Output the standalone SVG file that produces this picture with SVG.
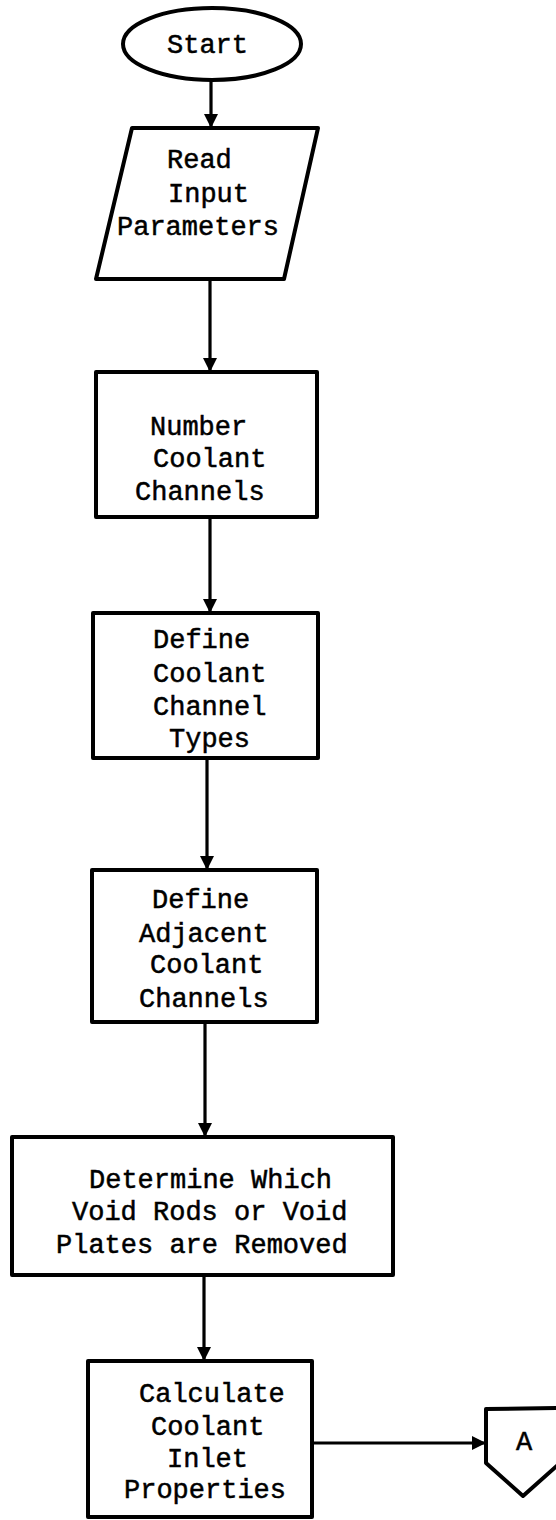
<svg xmlns="http://www.w3.org/2000/svg" width="556" height="1520" viewBox="0 0 556 1520">
  <style>
    .shape { fill: #fff; stroke: #000; stroke-width: 4; stroke-linejoin: round; }
    .edge { fill: none; stroke: #000; stroke-width: 3.2; }
    .lbl { font-family: "Liberation Mono", "Courier New", monospace; font-size: 27px; fill: #000; stroke: #000; stroke-width: 0.5; }
  </style>
  <defs>
    <marker id="arrow" markerUnits="userSpaceOnUse" markerWidth="16" markerHeight="16" refX="15" refY="8" orient="auto">
      <path d="M1,1 L15,8 L1,15 Z" fill="#000"/>
    </marker>
  </defs>

  <rect width="556" height="1520" fill="#fff"/>

  <!-- connectors -->
  <g id="connectors">
    <line class="edge" x1="211" y1="80" x2="211" y2="128" marker-end="url(#arrow)"/>
    <line class="edge" x1="210" y1="279" x2="210" y2="372" marker-end="url(#arrow)"/>
    <line class="edge" x1="210" y1="517" x2="210" y2="613" marker-end="url(#arrow)"/>
    <line class="edge" x1="207" y1="758" x2="207" y2="870" marker-end="url(#arrow)"/>
    <line class="edge" x1="205" y1="1022" x2="205" y2="1137" marker-end="url(#arrow)"/>
    <line class="edge" x1="204" y1="1275" x2="204" y2="1361" marker-end="url(#arrow)"/>
    <line class="edge" x1="312" y1="1443" x2="486" y2="1443" marker-end="url(#arrow)"/>
  </g>

  <g id="start">
    <ellipse class="shape" cx="212" cy="44" rx="89" ry="36"/>
    <text class="lbl" x="167" y="53">Start</text>
  </g>

  <g id="read-input">
    <polygon class="shape" points="132,128 318,128 284,279 96,279"/>
    <text class="lbl" x="167" y="168">Read</text>
    <text class="lbl" x="168" y="202">Input</text>
    <text class="lbl" x="117" y="235">Parameters</text>
  </g>

  <g id="number-channels">
    <rect class="shape" x="96" y="372" width="221" height="145"/>
    <text class="lbl" x="150" y="435">Number</text>
    <text class="lbl" x="153" y="467">Coolant</text>
    <text class="lbl" x="135" y="500">Channels</text>
  </g>

  <g id="define-types">
    <rect class="shape" x="93" y="613" width="225" height="145"/>
    <text class="lbl" x="153" y="648">Define</text>
    <text class="lbl" x="153" y="682">Coolant</text>
    <text class="lbl" x="153" y="715">Channel</text>
    <text class="lbl" x="169" y="747">Types</text>
  </g>

  <g id="define-adjacent">
    <rect class="shape" x="92" y="870" width="225" height="152"/>
    <text class="lbl" x="152" y="908">Define</text>
    <text class="lbl" x="139" y="942">Adjacent</text>
    <text class="lbl" x="150" y="973">Coolant</text>
    <text class="lbl" x="139" y="1007">Channels</text>
  </g>

  <g id="determine-removed">
    <rect class="shape" x="12" y="1137" width="381" height="138"/>
    <text class="lbl" x="89" y="1188">Determine Which</text>
    <text class="lbl" x="72" y="1220">Void Rods or Void</text>
    <text class="lbl" x="56" y="1253">Plates are Removed</text>
  </g>

  <g id="calculate-inlet">
    <rect class="shape" x="88" y="1361" width="224" height="156"/>
    <text class="lbl" x="139" y="1402">Calculate</text>
    <text class="lbl" x="151" y="1435">Coolant</text>
    <text class="lbl" x="167" y="1467">Inlet</text>
    <text class="lbl" x="124" y="1498">Properties</text>
  </g>

  <g id="connector-a">
    <polygon class="shape" points="486,1409 560,1408 560,1463 523,1496 486,1463"/>
    <text class="lbl" x="524" y="1450" text-anchor="middle">A</text>
  </g>
</svg>
